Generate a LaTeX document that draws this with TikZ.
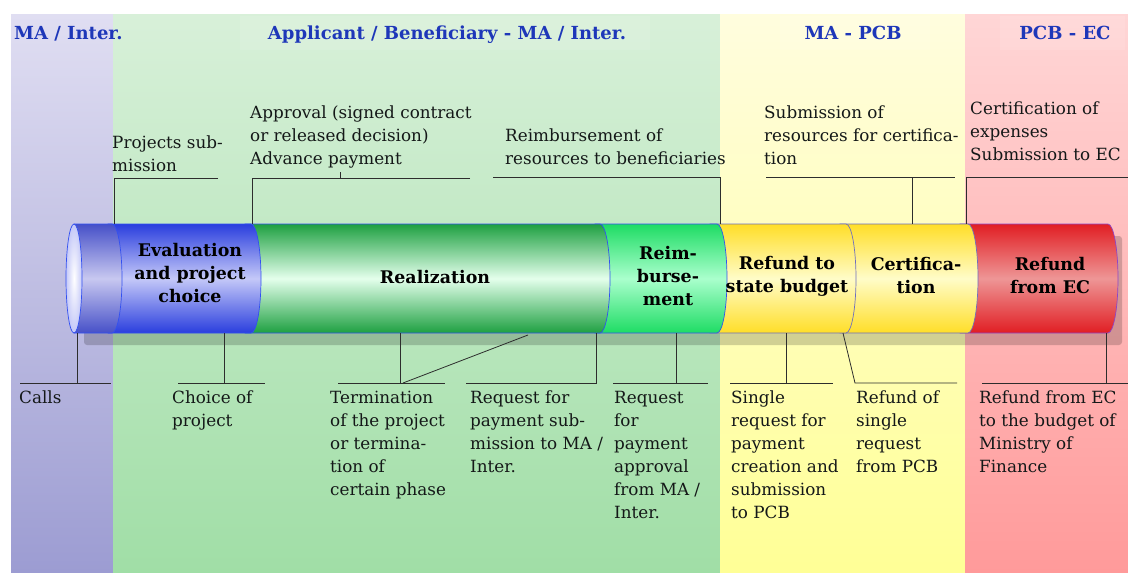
\documentclass[tikz,border=0pt]{standalone}
\usepackage{fontspec}
\setmainfont{DejaVu Serif}
\definecolor{hdrblue}{RGB}{30,55,185}
\definecolor{txtcol}{RGB}{20,24,24}
\definecolor{lavtop}{RGB}{224,222,242}
\definecolor{lavbot}{RGB}{156,156,210}
\definecolor{grntop}{RGB}{216,240,217}
\definecolor{grnbot}{RGB}{160,222,166}
\definecolor{yeltop}{RGB}{255,253,222}
\definecolor{yelbot}{RGB}{255,255,150}
\definecolor{pnktop}{RGB}{255,214,214}
\definecolor{pnkbot}{RGB}{255,154,154}
\definecolor{blueedge}{RGB}{50,80,240}
\definecolor{bluedark}{RGB}{42,62,222}
\definecolor{bluemid}{RGB}{196,200,248}
\definecolor{ringdark}{RGB}{70,80,200}
\definecolor{ringmid}{RGB}{200,200,240}
\definecolor{realdark}{RGB}{30,160,65}
\definecolor{realmid}{RGB}{228,255,236}
\definecolor{reimdark}{RGB}{30,220,100}
\definecolor{reimmid}{RGB}{170,255,205}
\definecolor{yeldark}{RGB}{255,222,40}
\definecolor{yelmid}{RGB}{255,252,200}
\definecolor{reddark}{RGB}{225,30,35}
\definecolor{redmid}{RGB}{238,150,150}
\definecolor{yeledge}{RGB}{110,110,190}
\definecolor{rededge}{RGB}{140,70,200}
\definecolor{conncol}{RGB}{45,45,45}
\newcommand\lblfont{\fontsize{16.8}{23}\selectfont}
\newcommand\seglblfont{\fontsize{17.4}{23}\selectfont\bfseries}
\newcommand\hdrfont{\fontsize{18}{22}\selectfont\bfseries}
\newcommand\cylseg[5]{%
  \shade[top color=#4,bottom color=#4,middle color=#5,draw=#3,line width=0.7pt]
  (#1,224) -- (#2,224) .. controls ({#2+5.5},224) and ({#2+10},248.5) .. ({#2+10},278.5)
  .. controls ({#2+10},308.5) and ({#2+5.5},333) .. (#2,333) -- (#1,333) -- cycle;}
\begin{document}
\begin{tikzpicture}[x=1pt,y=-1pt,
  lbl/.style={anchor=base west,align=left,inner sep=0pt,font=\lblfont,text=txtcol},
  seglbl/.style={align=center,inner sep=0pt,font=\seglblfont,text=black},
  hdr/.style={inner sep=0pt,font=\hdrfont,text=hdrblue},
  hdrbox/.style={fill=white,opacity=0.1},
  conn/.style={draw=conncol,line width=0.8pt}]
\useasboundingbox (0,0) rectangle (1128,573);
\fill[white] (0,0) rectangle (1128,573);
% panels
\shade[top color=lavtop,bottom color=lavbot] (11,14) rectangle (113,573);
\shade[top color=grntop,bottom color=grnbot] (113,14) rectangle (720,573);
\shade[top color=yeltop,bottom color=yelbot] (720,14) rectangle (965,573);
\shade[top color=pnktop,bottom color=pnkbot] (965,14) rectangle (1128,573);
% header boxes
\fill[hdrbox] (240,16) rectangle (650,50);
\fill[hdrbox] (780,16) rectangle (930,50);
\fill[hdrbox] (1000,16) rectangle (1125,50);
% headers
\node[hdr,anchor=base west] (h1) at (14,39) {MA / Inter.};
\node[hdr,anchor=base] (h2) at (447,39) {Applicant / Beneficiary - MA / Inter.};
\node[hdr,anchor=base] (h3) at (853,39) {MA - PCB};
\node[hdr,anchor=base] (h4) at (1065,39) {PCB - EC};
% shadow
\fill[black,opacity=0.18,rounded corners=3pt] (84,236) rectangle (1122,345);
% cylinder segments, right to left
\cylseg{960}{1108}{rededge}{reddark}{redmid}
\cylseg{840}{968}{yeledge}{yeldark}{yelmid}
\cylseg{710}{846}{yeledge}{yeldark}{yelmid}
\cylseg{595}{717}{blueedge}{reimdark}{reimmid}
\cylseg{245}{600}{blueedge}{realdark}{realmid}
\cylseg{108}{251}{blueedge}{bluedark}{bluemid}
\cylseg{74}{112}{blueedge}{ringdark}{ringmid}
\shade[inner color=white,outer color=bluemid,draw=blueedge,line width=0.7pt] (74,278.5) ellipse [x radius=8pt,y radius=54.5pt];
% segment labels
\node[seglbl] (s1) at (190,273) {Evaluation\\and project\\choice};
\node[seglbl] (s2) at (435,277) {Realization};
\node[seglbl] (s3) at (668,276) {Reim-\\burse-\\ment};
\node[seglbl] (s4) at (787,276) {Refund to\\state budget};
\node[seglbl] (s5) at (916,276) {Certifica-\\tion};
\node[seglbl] (s6) at (1050,276) {Refund\\from EC};
% top labels (anchor = baseline of last line)
\node[lbl] (t1) at (112,171) {Projects sub-\\mission};
\node[lbl] (t2) at (250,164) {Approval (signed contract\\or released decision)\\Advance payment};
\node[lbl] (t3) at (505,164) {Reimbursement of\\resources to beneficiaries};
\node[lbl] (t4) at (764,164) {Submission of\\resources for certifica-\\tion};
\node[lbl] (t5) at (970,160) {Certification of\\expenses\\Submission to EC};
% bottom labels (anchor = baseline of last line; first line at 403)
\node[lbl] (b1) at (19,403) {Calls};
\node[lbl] (b2) at (172,426) {Choice of\\project};
\node[lbl] (b3) at (330,495) {Termination\\of the project\\or termina-\\tion of\\certain phase};
\node[lbl] (b4) at (470,472) {Request for\\payment sub-\\mission to MA /\\Inter.};
\node[lbl] (b5) at (614,518) {Request\\for\\payment\\approval\\from MA /\\Inter.};
\node[lbl] (b6) at (731,518) {Single\\request for\\payment\\creation and\\submission\\to PCB};
\node[lbl] (b7) at (856,472) {Refund of\\single\\request\\from PCB};
\node[lbl] (b8) at (979,472) {Refund from EC\\to the budget of\\Ministry of\\Finance};
% connector coordinates (top)
\coordinate (ta1) at (114,178); \coordinate (tb1) at (218,178); \coordinate (tc1) at (114,224);
\coordinate (ta2) at (252,178); \coordinate (tb2) at (470,178); \coordinate (tc2) at (252,224);
\coordinate (tk2a) at (340,172); \coordinate (tk2b) at (340,178);
\coordinate (ta3) at (493,177); \coordinate (tb3) at (720,177); \coordinate (tc3) at (720,224);
\coordinate (ta4) at (766,177); \coordinate (tb4) at (955,177); \coordinate (tm4) at (912,177); \coordinate (tc4) at (912,224);
\coordinate (ta5) at (966,177); \coordinate (tb5) at (1128,177); \coordinate (tc5) at (966,224);
\draw[conn] (tb1) -- (ta1) -- (tc1);
\draw[conn] (tb2) -- (ta2) -- (tc2);
\draw[conn] (tk2a) -- (tk2b);
\draw[conn] (ta3) -- (tb3) -- (tc3);
\draw[conn] (ta4) -- (tb4);
\draw[conn] (tm4) -- (tc4);
\draw[conn] (tb5) -- (ta5) -- (tc5);
% connector coordinates (bottom)
\coordinate (ba1) at (20,383); \coordinate (bb1) at (111,383); \coordinate (bm1) at (77,383); \coordinate (bc1) at (77,333);
\coordinate (ba2) at (178,383); \coordinate (bb2) at (265,383); \coordinate (bm2) at (224,383); \coordinate (bc2) at (224,333);
\coordinate (ba3) at (338,383); \coordinate (bb3) at (445,383); \coordinate (bm3) at (400,383); \coordinate (bc3) at (400,333);
\coordinate (bd3) at (403,383); \coordinate (be3) at (528,335);
\coordinate (ba4) at (466,383); \coordinate (bb4) at (596,383); \coordinate (bc4) at (596,333);
\coordinate (ba5) at (613,383); \coordinate (bb5) at (708,383); \coordinate (bm5) at (676,383); \coordinate (bc5) at (676,333);
\coordinate (ba6) at (730,383); \coordinate (bb6) at (833,383); \coordinate (bm6) at (786,383); \coordinate (bc6) at (786,333);
\coordinate (ba7) at (855,383); \coordinate (bb7) at (957,383); \coordinate (bc7) at (843,333);
\coordinate (ba8) at (982,383); \coordinate (bb8) at (1128,383); \coordinate (bm8) at (1106,383); \coordinate (bc8) at (1106,333);
\draw[conn] (ba1) -- (bb1); \draw[conn] (bm1) -- (bc1);
\draw[conn] (ba2) -- (bb2); \draw[conn] (bm2) -- (bc2);
\draw[conn] (ba3) -- (bb3); \draw[conn] (bm3) -- (bc3); \draw[conn] (bd3) -- (be3);
\draw[conn] (ba4) -- (bb4) -- (bc4);
\draw[conn] (ba5) -- (bb5); \draw[conn] (bm5) -- (bc5);
\draw[conn] (ba6) -- (bb6); \draw[conn] (bm6) -- (bc6);
\draw[conn] (bb7) -- (ba7) -- (bc7);
\draw[conn] (ba8) -- (bb8); \draw[conn] (bm8) -- (bc8);
\end{tikzpicture}
\end{document}
